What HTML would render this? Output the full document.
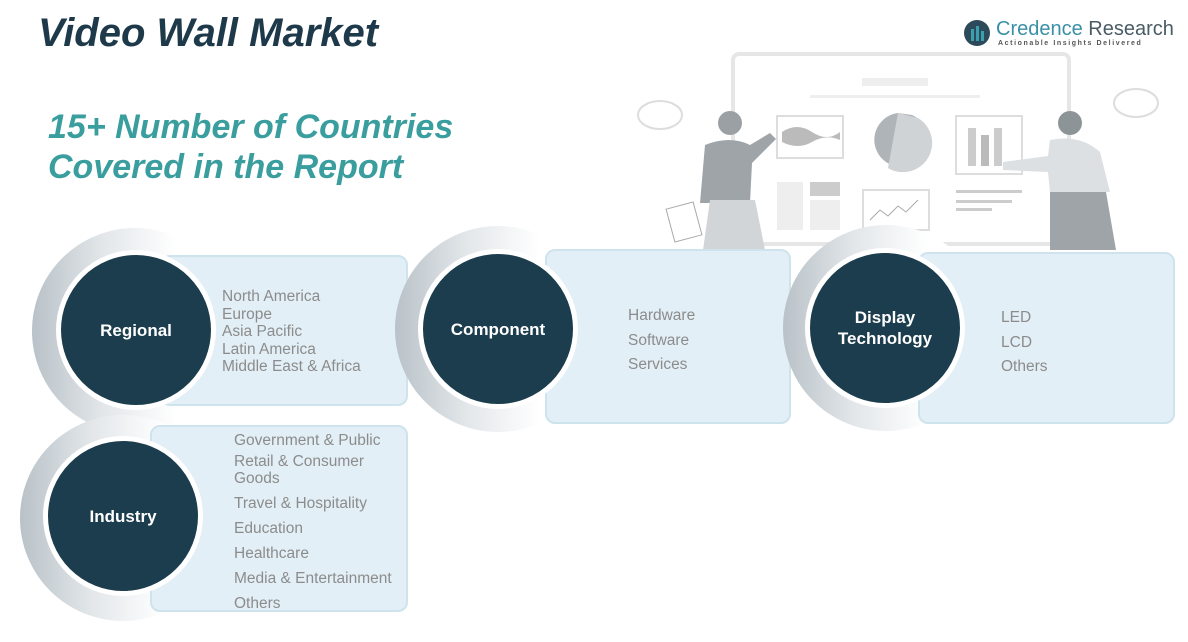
<!DOCTYPE html>
<html><head><style>
body{margin:0;width:1188px;height:642px;background:#fff;position:relative;overflow:hidden;font-family:"Liberation Sans",sans-serif}
.a{position:absolute}
.halo{position:absolute;border-radius:50%;background:linear-gradient(90deg,#b9c2c8 0%,#e3e7ea 35%,#fff 70%)}
.box{position:absolute;background:#e2eff6;border:2px solid #cfe3ec;border-radius:10px;box-sizing:border-box}
.dot{position:absolute;width:150px;height:150px;border-radius:50%;background:#1b3d4d;border:5px solid #fff;box-sizing:content-box;color:#fff;font-weight:bold;font-size:17px;display:flex;align-items:center;justify-content:center;text-align:center;line-height:21px;margin:-5px}
.t{position:absolute;color:#8c8c8c;font-size:15.5px;line-height:17.5px}
</style></head><body>
<div class="a" style="left:38px;top:11px;font-size:40px;font-weight:bold;font-style:italic;color:#1e3a4a">Video Wall Market</div>
<div class="a" style="left:48px;top:107px;font-size:34px;font-weight:bold;font-style:italic;color:#3a9e9e;line-height:40px">15+ Number of Countries<br>Covered in the Report</div>
<svg class="a" style="left:962px;top:18px" width="30" height="30"><circle cx="15" cy="15" r="13" fill="#2c4a5a"/><rect x="9" y="11" width="3" height="12" fill="#3aa0b0"/><rect x="14" y="8" width="3" height="15" fill="#3aa0b0"/><rect x="19" y="13" width="3" height="10" fill="#3aa0b0"/></svg>
<div class="a" style="left:996px;top:18px;font-size:20px;color:#3a8fa8">Credence <span style="color:#4a5c66">Research</span></div>
<div class="a" style="left:998px;top:40px;font-size:7px;letter-spacing:1.6px;color:#555;font-weight:bold">Actionable Insights Delivered</div>
<svg class="a" style="left:630px;top:50px" width="558" height="210">
<rect x="103" y="4" width="336" height="190" rx="6" fill="#fff" stroke="#e6e6e6" stroke-width="4"/>
<rect x="232" y="28" width="66" height="8" fill="#eee"/><rect x="180" y="45" width="170" height="3" fill="#eee"/>
<rect x="147" y="66" width="66" height="42" fill="#fff" stroke="#ddd" stroke-width="2"/>
<path d="M152 82 q15 -10 30 0 t28 0 v8 q-14 -6 -28 2 t-30 0z" fill="#bbb"/>
<path d="M268 63 a27 27 0 1 0 14 2 z" fill="#aeb4b8"/><path d="M268 63 l-10 55 a27 27 0 0 0 30 -50z" fill="#cfd3d6"/>
<rect x="326" y="66" width="66" height="58" fill="#fff" stroke="#ddd" stroke-width="2"/>
<rect x="338" y="78" width="8" height="38" fill="#ccc"/><rect x="351" y="85" width="8" height="31" fill="#bbb"/><rect x="364" y="78" width="8" height="38" fill="#ccc"/>
<rect x="147" y="132" width="26" height="48" fill="#eee"/><rect x="180" y="132" width="30" height="14" fill="#ccc"/><rect x="180" y="150" width="30" height="30" fill="#eee"/>
<rect x="233" y="140" width="66" height="40" fill="#fff" stroke="#ddd" stroke-width="2"/><path d="M240 170 l10 -10 8 6 10 -10 8 6 12 -12" stroke="#aaa" fill="none"/>
<rect x="326" y="140" width="66" height="3" fill="#ccc"/><rect x="326" y="150" width="56" height="3" fill="#ccc"/><rect x="326" y="158" width="36" height="3" fill="#ccc"/>
<ellipse cx="30" cy="65" rx="22" ry="14" fill="#fff" stroke="#ddd" stroke-width="2"/><ellipse cx="506" cy="53" rx="22" ry="14" fill="#fff" stroke="#ddd" stroke-width="2"/>
<circle cx="100" cy="73" r="12" fill="#9aa0a4"/><path d="M75 95 q25 -10 45 0 l20 -12 l6 6 l-24 24 l-2 40 h-50z" fill="#9ea4a8"/><path d="M80 150 h45 l10 50 h-62z" fill="#d2d5d7"/>
<rect x="40" y="155" width="28" height="34" fill="#fff" stroke="#aaa" transform="rotate(-15 54 172)"/>
<circle cx="440" cy="73" r="12" fill="#8d9498"/><path d="M420 90 q30 -6 50 12 l10 40 h-60 l-2 -20 -45 -2 v-8 l45 -6z" fill="#dde0e2"/><path d="M420 142 h56 l10 58 h-66z" fill="#9ea4a8"/>
</svg>

<div class="halo" style="left:32px;top:228px;width:206px;height:206px"></div>
<div class="box" style="left:160px;top:255px;width:248px;height:151px"></div>
<div class="dot" style="left:61px;top:255px">Regional</div>
<div class="t" style="left:222px;top:288px">North America<br>Europe<br>Asia Pacific<br>Latin America<br>Middle East &amp; Africa</div>

<div class="halo" style="left:395px;top:226px;width:206px;height:206px"></div>
<div class="box" style="left:545px;top:249px;width:246px;height:175px"></div>
<div class="dot" style="left:423px;top:254px">Component</div>
<div class="t" style="left:628px;top:304px;line-height:24.5px">Hardware<br>Software<br>Services</div>

<div class="halo" style="left:783px;top:225px;width:206px;height:206px"></div>
<div class="box" style="left:918px;top:252px;width:257px;height:172px"></div>
<div class="dot" style="left:810px;top:253px">Display<br>Technology</div>
<div class="t" style="left:1001px;top:306px;line-height:24.5px">LED<br>LCD<br>Others</div>

<div class="halo" style="left:20px;top:415px;width:206px;height:206px"></div>
<div class="box" style="left:150px;top:425px;width:258px;height:187px"></div>
<div class="dot" style="left:48px;top:441px">Industry</div>
<div class="t" style="left:234px;top:428px;line-height:25px">Government &amp; Public<br><span style="line-height:17px;display:inline-block">Retail &amp; Consumer<br>Goods</span><br>Travel &amp; Hospitality<br>Education<br>Healthcare<br>Media &amp; Entertainment<br>Others</div>
</body></html>
